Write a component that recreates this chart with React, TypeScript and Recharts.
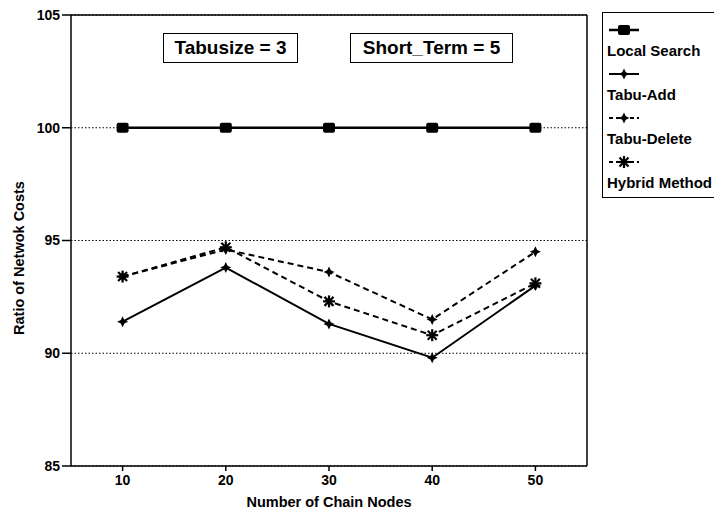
import { LineChart, Line, XAxis, YAxis, CartesianGrid, ReferenceLine, Legend } from "recharts";

const nodes = [10, 20, 30, 40, 50];
const localSearch = [100, 100, 100, 100, 100];
const tabuAdd = [91.4, 93.8, 91.3, 89.8, 93.0];
const tabuDelete = [93.4, 94.6, 93.6, 91.5, 94.5];
const hybrid = [93.4, 94.7, 92.3, 90.8, 93.1];

const xTicks = [10, 20, 30, 40, 50];
const yTicks = [85, 90, 95, 100, 105];

const data = nodes.map((n, i) => ({
  nodes: n,
  localSearch: localSearch[i],
  tabuAdd: tabuAdd[i],
  tabuDelete: tabuDelete[i],
  hybrid: hybrid[i],
}));

const FONT = '"Liberation Sans", Arial, sans-serif';

const Square = ({ cx, cy }: any) => (
  <rect x={cx - 6} y={cy - 5} width={12} height={10} rx={2} fill="#000" />
);

const Plus = ({ cx, cy }: any) => (
  <polygon
    points={`${cx},${cy - 5.5} ${cx + 1.8},${cy - 1.8} ${cx + 5.5},${cy} ${cx + 1.8},${cy + 1.8} ${cx},${cy + 5.5} ${cx - 1.8},${cy + 1.8} ${cx - 5.5},${cy} ${cx - 1.8},${cy - 1.8}`}
    fill="#000"
  />
);

const Star = ({ cx, cy }: any) => (
  <g stroke="#000" strokeWidth={2.2}>
    <line x1={cx - 6} y1={cy} x2={cx + 6} y2={cy} />
    <line x1={cx} y1={cy - 6} x2={cx} y2={cy + 6} />
    <line x1={cx - 4.5} y1={cy - 4.5} x2={cx + 4.5} y2={cy + 4.5} />
    <line x1={cx - 4.5} y1={cy + 4.5} x2={cx + 4.5} y2={cy - 4.5} />
  </g>
);

const series = [
  { key: "localSearch", name: "Local Search", dash: undefined, width: 2.5, Marker: Square },
  { key: "tabuAdd", name: "Tabu-Add", dash: undefined, width: 2, Marker: Plus },
  { key: "tabuDelete", name: "Tabu-Delete", dash: "6 4", width: 2, Marker: Plus },
  { key: "hybrid", name: "Hybrid Method", dash: "6 4", width: 2, Marker: Star },
];

// legend box runs off the right edge of the page, like the original
const LegendBox = () => (
  <div
    style={{
      position: "absolute",
      left: 602,
      top: 12,
      width: 140,
      height: 186,
      border: "1.5px solid #000",
      borderRight: "none",
      boxSizing: "border-box",
      fontFamily: FONT,
      fontWeight: "bold",
      fontSize: 15,
      lineHeight: "16px",
      paddingLeft: 4,
      paddingTop: 7.5,
      background: "#fff",
    }}
  >
    {series.map((s) => (
      <div key={s.key} style={{ height: 44 }}>
        <svg width={34} height={18} style={{ display: "block" }}>
          <line x1={2} y1={9} x2={32} y2={9} stroke="#000" strokeWidth={s.width} strokeDasharray={s.dash ? "4 3" : undefined} />
          <s.Marker cx={17} cy={9} />
        </svg>
        <div style={{ whiteSpace: "nowrap", marginTop: 4 }}>{s.name}</div>
      </div>
    ))}
  </div>
);

const YLabel = () => {
  const cy = 258;
  return (
    <text x={19} y={cy} transform={`rotate(-90 19 ${cy})`} textAnchor="middle" dominantBaseline="central" fontFamily={FONT} fontWeight="bold" fontSize={14.5} fill="#000">
      Ratio of Netwok Costs
    </text>
  );
};

const XLabel = ({ viewBox }: any) => (
  <text x={viewBox.x + viewBox.width / 2} y={507} textAnchor="middle" fontFamily={FONT} fontWeight="bold" fontSize={14.5} fill="#000">
    Number of Chain Nodes
  </text>
);

const boxStyle: any = {
  position: "absolute",
  top: 33,
  height: 30,
  border: "1.5px solid #000",
  boxSizing: "border-box",
  fontFamily: FONT,
  fontWeight: "bold",
  fontSize: 19,
  display: "flex",
  alignItems: "center",
  justifyContent: "center",
};

export default function App() {
  return (
    <div style={{ position: "absolute", left: 0, top: 0, width: 714, height: 511, overflow: "hidden", background: "#fff" }}>
      <LineChart width={714} height={511} data={data} margin={{ top: 15, right: 127, left: 0, bottom: 0 }}>
        <CartesianGrid vertical={false} stroke="#000" strokeDasharray="1.5 2" strokeWidth={1.2} />
        <XAxis
          dataKey="nodes"
          type="number"
          domain={[5, 55]}
          ticks={xTicks}
          height={45}
          stroke="#000"
          strokeWidth={1.5}
          tickSize={5}
          tickMargin={4}
          tick={{ fill: "#000", fontSize: 14, fontFamily: FONT, fontWeight: "bold" }}
          label={<XLabel />}
        />
        <YAxis
          type="number"
          domain={[85, 105]}
          ticks={yTicks}
          width={71}
          stroke="#000"
          strokeWidth={1.5}
          tickSize={9}
          tickMargin={2}
          tick={{ fill: "#000", fontSize: 14, fontFamily: FONT, fontWeight: "bold" }}
          label={<YLabel />}
        />
        <ReferenceLine y={105} stroke="#000" strokeWidth={1.5} />
        <ReferenceLine x={55} stroke="#000" strokeWidth={1.5} />
        {series.map((s) => (
          <Line
            key={s.key}
            dataKey={s.key}
            name={s.name}
            type="linear"
            stroke="#000"
            strokeWidth={s.width}
            strokeDasharray={s.dash}
            dot={(p: any) => <s.Marker key={`${s.key}-${p.index}`} cx={p.cx} cy={p.cy} />}
            activeDot={false}
            isAnimationActive={false}
          />
        ))}
        <Legend layout="vertical" align="center" verticalAlign="middle" content={() => null} />
      </LineChart>
      <LegendBox />
      <div style={{ ...boxStyle, left: 163, width: 135 }}>Tabusize = 3</div>
      <div style={{ ...boxStyle, left: 350, width: 163 }}>Short_Term = 5</div>
    </div>
  );
}
